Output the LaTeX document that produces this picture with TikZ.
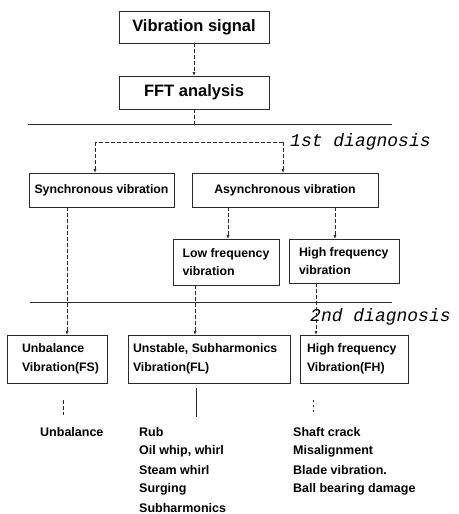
\documentclass[tikz,border=0pt]{standalone}
\usepackage{fontspec}
\setmainfont{Liberation Sans}
\newfontfamily\diagfont{Liberation Mono}
\usetikzlibrary{arrows.meta}
\definecolor{ink}{HTML}{2A2A2A}
\tikzset{
  box/.style={draw=ink, line width=0.6pt, inner ysep=2pt, font=\fontsize{12.3}{18.5}\selectfont\bfseries, align=flush left},
  bigbox/.style={draw=ink, line width=0.6pt, font=\fontsize{16.5}{20}\selectfont\bfseries},
  conn/.style={draw=ink, line width=0.6pt, dash pattern=on 4pt off 2pt},
  arr/.style={conn, -{Latex[length=3.5pt,width=3pt]}},
  rule/.style={draw=ink, line width=0.9pt},
  item/.style={anchor=west, inner sep=0pt, font=\fontsize{12.5}{15}\selectfont\bfseries},
  diag/.style={anchor=west, inner sep=0pt, font=\fontsize{18}{20}\selectfont\diagfont\itshape}
}
\begin{document}
\begin{tikzpicture}[x=1pt,y=-1pt]
\useasboundingbox (0,0) rectangle (458,514);
% top boxes
\node[bigbox, minimum width=150pt, minimum height=32pt] (vs) at (194,27) {Vibration signal};
\node[bigbox, minimum width=150pt, minimum height=33pt] (fft) at (194,92.5) {FFT analysis};
% rules
\coordinate (r1l) at (28,124); \coordinate (r1r) at (392,124);
\coordinate (r2l) at (30,302); \coordinate (r2r) at (392,302);
\draw[rule] (r1l) -- (r1r);
\draw[rule] (r2l) -- (r2r);
\node[diag] (d1) at (290,142) {1st diagnosis};
\node[diag] (d2) at (310,317) {2nd diagnosis};
% first level
\node[box, align=center, minimum width=145pt, minimum height=34pt] (sync) at (101.5,190) {Synchronous vibration};
\node[box, align=center, minimum width=186pt, minimum height=34pt] (async) at (285,190) {Asynchronous vibration};
\node[box, align=left, inner xsep=4pt, minimum width=106pt, minimum height=46pt] (low) at (226,262) {Low frequency\\vibration};
\node[box, inner xsep=10pt, text width=90pt, minimum height=44pt] (high) at (344,261) {High frequency\\vibration};
% second level
\node[box, inner xsep=15pt, text width=70pt, minimum height=48pt] (fs) at (57,359) {Unbalance\\Vibration(FS)};
\node[box, inner xsep=5pt, text width=152pt, minimum height=48pt] (fl) at (209,359) {Unstable, Subharmonics\\Vibration(FL)};
\node[box, inner xsep=7pt, text width=94pt, minimum height=48pt] (fh) at (354,359) {High frequency\\Vibration(FH)};
% connectors
\draw[arr] (vs.south) -- (fft.north);
\coordinate (fftend) at (194,124);
\draw[conn] (fft.south) -- (fftend);
\coordinate (bl) at (95,142); \coordinate (br) at (283,142);
\draw[conn] (br) -- (bl);
\draw[arr] (bl) -- (bl |- sync.north);
\draw[arr] (br) -- (br |- async.north);
\coordinate (a1) at (228,207); \coordinate (a2) at (335,207);
\draw[arr] (a1) -- (a1 |- low.north);
\draw[arr] (a2) -- (a2 |- high.north);
\coordinate (s1) at (67,207);
\draw[arr] (s1) -- (s1 |- fs.north);
\coordinate (l1) at (195,285);
\draw[arr] (l1) -- (l1 |- fl.north);
\coordinate (h1) at (316,283);
\draw[arr] (h1) -- (h1 |- fh.north);
% lower stubs
\coordinate (u1) at (63,400); \coordinate (u2) at (63,415);
\draw[conn] (u1) -- (u2);
\coordinate (f1) at (196,388); \coordinate (f2) at (196,417);
\draw[draw=ink, line width=0.6pt] (f1) -- (f2);
\coordinate (g1) at (313,400); \coordinate (g2) at (313,414);
\draw[conn, dash pattern=on 2pt off 3pt] (g1) -- (g2);
% lists
\node[item] (t0) at (40,432) {Unbalance};
\node[item] (t1) at (139,432) {Rub};
\node[item] (t2) at (139,451) {Oil whip, whirl};
\node[item] (t3) at (139,470) {Steam whirl};
\node[item] (t4) at (139,489) {Surging};
\node[item] (t5) at (139,508) {Subharmonics};
\node[item] (q1) at (293,432) {Shaft crack};
\node[item] (q2) at (293,451) {Misalignment};
\node[item] (q3) at (293,470) {Blade vibration.};
\node[item] (q4) at (293,489) {Ball bearing damage};
\end{tikzpicture}
\end{document}
